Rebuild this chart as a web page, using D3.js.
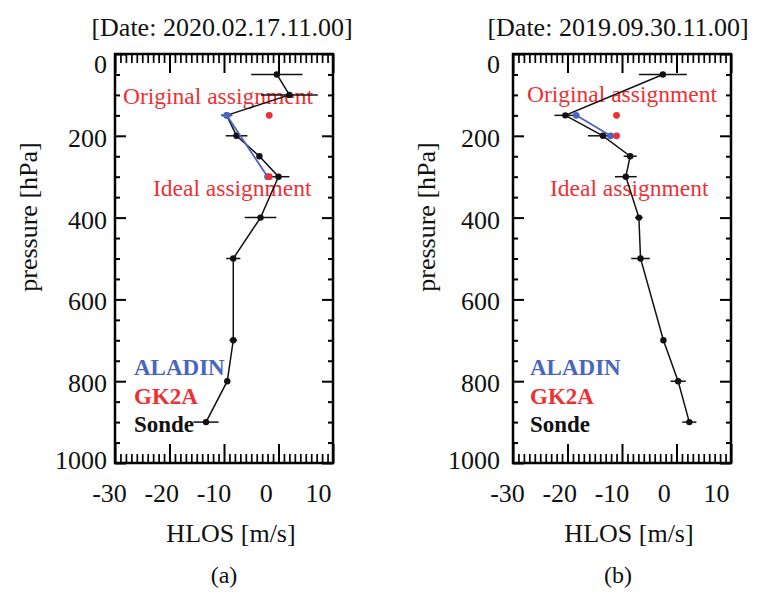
<!DOCTYPE html>
<html>
<head>
<meta charset="utf-8">
<script src="https://cdn.jsdelivr.net/npm/d3@7"></script>
<style>
html,body{margin:0;padding:0;background:#fff;}
svg{display:block;}
svg text{font-family:"Liberation Serif","Times New Roman",serif !important;}
</style>
</head>
<body>
<svg id="chart" width="777" height="596"></svg>
<script>
// ---------- data ----------
const xTickValues = [-30, -20, -10, 0, 10];
const yTickValues = [0, 200, 400, 600, 800, 1000];

// Panel (a)
const titleA = "[Date: 2020.02.17.11.00]";
const sondePA = [50, 100, 150, 200, 250, 300, 400, 500, 700, 800, 900];
const sondeVA = [-0.3, 2, -9.5, -7.7, -3.5, 0, -3.3, -8.3, -8.3, -9.4, -13.3];
const sondeEA = [4.7, 5.2, 1, 2, 0.4, 2, 2.9, 1.3, 0.7, 0, 2.3];
const aladinPA = [150, 300];
const aladinVA = [-9.5, -2];
const aladinEA = [1, 0];
const gk2aPA = [150, 300];
const gk2aVA = [-1.7, -1.7];

// Panel (b)
const titleB = "[Date: 2019.09.30.11.00]";
const sondePB = [50, 150, 200, 250, 300, 400, 500, 700, 800, 900];
const sondeVB = [-2.5, -20.4, -13.5, -8.5, -9.3, -6.9, -6.6, -2.4, 0.3, 2.35];
const sondeEB = [4.4, 2, 2.75, 1.2, 2, 0.7, 1.7, 0, 1.4, 1.3];
const aladinPB = [150, 200];
const aladinVB = [-18.4, -12.1];
const aladinEB = [0, 0];
const gk2aPB = [150, 200];
const gk2aVB = [-11, -11];

const legendLabels = ["ALADIN", "GK2A", "Sonde"];
const legendColors = ["#4a64bf", "#ee3035", "#111111"];
const annot = ["Original assignment", "Ideal assignment"];

// ---------- drawing ----------
const svg = d3.select("#chart");
const BLUE = "#4a64bf", RED = "#ee3035";
const fmt = d => String(d); // plain hyphen minus like the original

function panel(cfg) {
  const L = cfg.left, R = cfg.left + 218, T = 54, B = 463;
  const x = d3.scaleLinear().domain([-30, 10]).range([L, R]);
  const y = d3.scaleLinear().domain([0, 1000]).range([T, B]);
  const g = svg.append("g");

  const yMinor = d3.range(0, 1001, 50).filter(v => v % 200 !== 0);
  const xMinor = d3.range(-30, 11, 1).filter(v => v % 10 !== 0);
  function tickAxis(axis, tx, ty) {
    const a = g.append("g").attr("transform", `translate(${tx},${ty})`).call(axis);
    a.select(".domain").remove();
    a.selectAll("line").attr("stroke", "#000").attr("stroke-width", 2);
    a.selectAll("text").remove();
    return a;
  }
  tickAxis(d3.axisLeft(y).tickValues(yTickValues).tickSize(-11).tickFormat(""), L, 0);
  tickAxis(d3.axisLeft(y).tickValues(yMinor).tickSize(-5).tickFormat(""), L, 0);
  tickAxis(d3.axisRight(y).tickValues(yTickValues).tickSize(-11).tickFormat(""), R, 0);
  tickAxis(d3.axisRight(y).tickValues(yMinor).tickSize(-5).tickFormat(""), R, 0);
  tickAxis(d3.axisBottom(x).tickValues(xTickValues).tickSize(-19).tickFormat(""), 0, B);
  tickAxis(d3.axisBottom(x).tickValues(xMinor).tickSize(-9).tickFormat(""), 0, B).selectAll("line").attr("stroke-width", 1.7);
  tickAxis(d3.axisTop(x).tickValues(xTickValues).tickSize(-19).tickFormat(""), 0, T);
  tickAxis(d3.axisTop(x).tickValues(xMinor).tickSize(-9).tickFormat(""), 0, T).selectAll("line").attr("stroke-width", 1.7);

  g.append("rect").attr("x", L).attr("y", T).attr("width", R - L).attr("height", B - T)
    .attr("fill", "none").attr("stroke", "#000").attr("stroke-width", 2.5);

  // y labels
  const ya = g.append("g").attr("transform", `translate(${cfg.yLabelRight},0)`)
    .call(d3.axisLeft(y).tickValues(yTickValues).tickSize(0).tickPadding(0).tickFormat(fmt));
  ya.select(".domain").remove();
  ya.selectAll("text").attr("font-size", 26).attr("fill", "#111")
    .attr("dy", d => d === 0 ? "0.7em" : d === 1000 ? "0.22em" : "0.4em");

  // x labels (slightly offset from ticks as in original)
  const labelX = d3.scaleLinear().domain([-30, 10]).range([L - 6, R - 15]);
  const xa = g.append("g").attr("transform", `translate(0,${B})`)
    .call(d3.axisBottom(x).tickValues(xTickValues).tickSize(0).tickFormat(fmt));
  xa.select(".domain").remove();
  xa.selectAll("text").attr("font-size", 26).attr("fill", "#111")
    .attr("y", 39).attr("dy", 0)
    .attr("dx", d => labelX(d) - x(d));

  // axis titles
  g.append("text").attr("x", (L + R) / 2 + 7).attr("y", 542).attr("text-anchor", "middle")
    .attr("font-size", 26).attr("fill", "#111").text("HLOS [m/s]");
  g.append("text").attr("transform", `translate(${L - 78},217) rotate(-90)`).attr("text-anchor", "middle")
    .attr("font-size", 26).attr("fill", "#111").text("pressure [hPa]");
  g.append("text").attr("x", (L + R) / 2 + cfg.capDx).attr("y", 583).attr("text-anchor", "middle")
    .attr("font-size", 24).attr("fill", "#111").text(cfg.caption);
  g.append("text").attr("x", cfg.titleX).attr("y", 36).attr("text-anchor", "middle")
    .attr("font-size", 26).attr("fill", "#111").text(cfg.title);

  // annotations
  g.append("text").attr("x", cfg.origX).attr("y", cfg.origY).attr("font-size", 23.5)
    .attr("fill", RED).text(annot[0]);
  g.append("text").attr("x", cfg.idealX).attr("y", 196).attr("font-size", 23.5)
    .attr("fill", RED).text(annot[1]);

  // legend
  legendLabels.forEach((lab, i) => {
    g.append("text").attr("x", cfg.legX).attr("y", 375 + i * 28.5)
      .attr("font-size", 23).attr("font-weight", "bold").attr("fill", legendColors[i]).text(lab);
  });

  // sonde
  const sonde = cfg.sP.map((p, i) => ({p, v: cfg.sV[i], e: cfg.sE[i]}));
  const line = d3.line().x(d => x(d.v)).y(d => y(d.p));
  g.append("path").datum(sonde).attr("d", line).attr("fill", "none")
    .attr("stroke", "#111").attr("stroke-width", 1.5);
  g.selectAll(".se").data(sonde.filter(d => d.e > 0)).enter().append("line")
    .attr("x1", d => x(d.v - d.e)).attr("x2", d => x(d.v + d.e))
    .attr("y1", d => y(d.p)).attr("y2", d => y(d.p))
    .attr("stroke", "#111").attr("stroke-width", 1.5);
  g.selectAll(".sd").data(sonde).enter().append("circle")
    .attr("cx", d => x(d.v)).attr("cy", d => y(d.p)).attr("r", 3.2).attr("fill", "#111");

  // aladin
  const al = cfg.aP.map((p, i) => ({p, v: cfg.aV[i], e: cfg.aE[i]}));
  g.append("path").datum(al).attr("d", line).attr("fill", "none")
    .attr("stroke", BLUE).attr("stroke-width", 1.8);
  g.selectAll(".ae").data(al.filter(d => d.e > 0)).enter().append("line")
    .attr("x1", d => x(d.v - d.e)).attr("x2", d => x(d.v + d.e))
    .attr("y1", d => y(d.p)).attr("y2", d => y(d.p))
    .attr("stroke", BLUE).attr("stroke-width", 2);
  g.selectAll(".ad").data(al).enter().append("circle")
    .attr("cx", d => x(d.v)).attr("cy", d => y(d.p)).attr("r", 3.4).attr("fill", BLUE);

  // gk2a
  const gk = cfg.gP.map((p, i) => ({p, v: cfg.gV[i]}));
  g.selectAll(".gd").data(gk).enter().append("circle")
    .attr("cx", d => x(d.v)).attr("cy", d => y(d.p)).attr("r", 3.4).attr("fill", RED);
}

panel({left: 115, yLabelRight: 107, title: titleA, titleX: 222, caption: "(a)", capDx: 0,
  origX: 123, origY: 104, idealX: 153, legX: 134,
  sP: sondePA, sV: sondeVA, sE: sondeEA, aP: aladinPA, aV: aladinVA, aE: aladinEA, gP: gk2aPA, gV: gk2aVA});
panel({left: 513, yLabelRight: 500, title: titleB, titleX: 618, caption: "(b)", capDx: -4,
  origX: 527, origY: 102, idealX: 550, legX: 530,
  sP: sondePB, sV: sondeVB, sE: sondeEB, aP: aladinPB, aV: aladinVB, aE: aladinEB, gP: gk2aPB, gV: gk2aVB});
</script>
</body>
</html>
